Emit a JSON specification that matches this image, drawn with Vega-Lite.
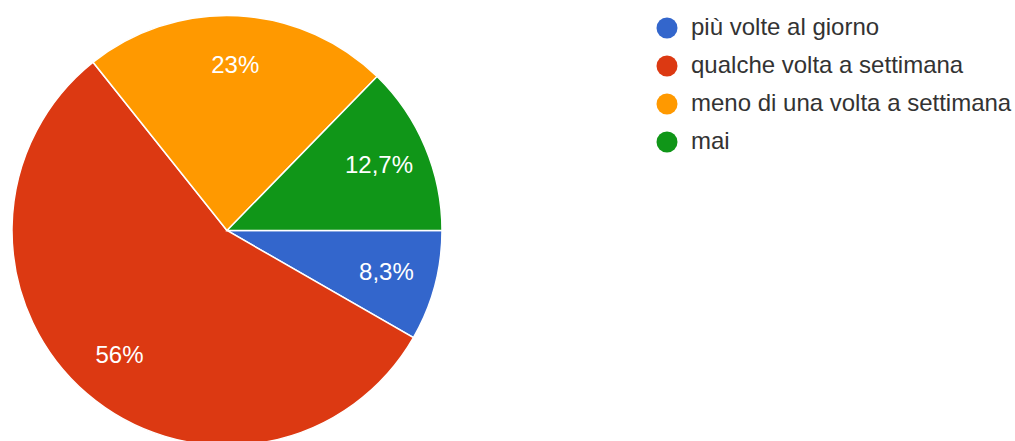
{
  "$schema": "https://vega.github.io/schema/vega-lite/v6.json",
  "width": 454,
  "height": 421,
  "autosize": {"type": "none"},
  "padding": {"left": 0, "top": 20, "right": 561, "bottom": 0},
  "background": "white",
  "data": {
    "values": [
      {"cat": "più volte al giorno", "value": 8.3, "label": "8,3%", "ord": 1},
      {"cat": "qualche volta a settimana", "value": 56, "label": "56%", "ord": 2},
      {"cat": "meno di una volta a settimana", "value": 23, "label": "23%", "ord": 3},
      {"cat": "mai", "value": 12.7, "label": "12,7%", "ord": 4}
    ]
  },
  "encoding": {
    "theta": {"field": "value", "type": "quantitative", "stack": true, "scale": {"range": [1.5708, 7.854]}},
    "order": {"field": "ord", "type": "quantitative"},
    "color": {
      "field": "cat",
      "type": "nominal",
      "sort": null,
      "scale": {
        "domain": ["più volte al giorno", "qualche volta a settimana", "meno di una volta a settimana", "mai"],
        "range": ["#3366cc", "#dc3912", "#ff9900", "#109618"]
      },
      "legend": {
        "orient": "none",
        "legendX": 655,
        "legendY": -4,
        "title": null,
        "symbolType": "circle",
        "symbolSize": 441,
        "symbolStrokeWidth": 0,
        "symbolOpacity": 1,
        "labelFontSize": 24,
        "labelFont": "Liberation Sans",
        "labelColor": "#333333",
        "labelOffset": 12,
        "labelLimit": 0,
        "rowPadding": 14,
        "padding": 0
      }
    }
  },
  "layer": [
    {"mark": {"type": "arc", "outerRadius": 215, "stroke": "white", "strokeWidth": 1.5}},
    {
      "mark": {"type": "text", "radius": 165, "fontSize": 24, "font": "Liberation Sans"},
      "encoding": {
        "text": {"field": "label"},
        "color": {"value": "white"},
        "detail": {"field": "cat"}
      }
    }
  ],
  "config": {"view": {"stroke": null}}
}
